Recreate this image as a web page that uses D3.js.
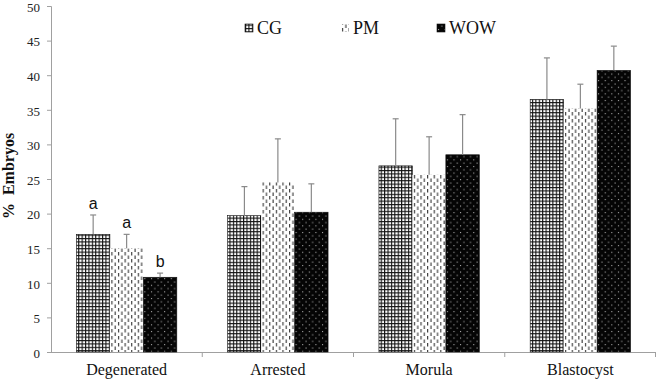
<!DOCTYPE html>
<html>
<head>
<meta charset="utf-8">
<script src="https://cdn.jsdelivr.net/npm/d3@7"></script>
<style>
  body { margin: 0; background: #fff; }
  svg { display: block; }
</style>
</head>
<body>
<div id="chart"></div>
<script>
'use strict';

const stages = ['Degenerated', 'Arrested', 'Morula', 'Blastocyst'];
const groups = ['CG', 'PM', 'WOW'];
const cgValues = [17.0, 19.7, 26.9, 36.5];
const pmValues = [15.0, 24.5, 25.6, 35.2];
const wowValues = [10.8, 20.2, 28.5, 40.7];
const cgErrors = [2.8, 4.2, 6.8, 6.0];
const pmErrors = [2.0, 6.3, 5.5, 3.5];
const wowErrors = [0.6, 4.1, 5.8, 3.5];
const sigLetters = [['a', 'a', 'b'], ['', '', ''], ['', '', ''], ['', '', '']];
const yTicks = [0, 5, 10, 15, 20, 25, 30, 35, 40, 45, 50];

const width = 656, height = 380;
const margin = {top: 6, right: 0, bottom: 28, left: 51};
const serif = '"Liberation Serif", "Times New Roman", serif';

const series = [cgValues, pmValues, wowValues];
const errors = [cgErrors, pmErrors, wowErrors];

const svg = d3.select('#chart').append('svg')
  .attr('width', width)
  .attr('height', height);

// fill patterns
const defs = svg.append('defs');

const grid = defs.append('pattern')
  .attr('id', 'pat-CG')
  .attr('patternUnits', 'userSpaceOnUse')
  .attr('width', 3.4).attr('height', 3.4);
grid.append('rect').attr('width', 3.4).attr('height', 3.4).attr('fill', '#fff');
grid.append('rect').attr('width', 1.1).attr('height', 3.4).attr('fill', '#111');
grid.append('rect').attr('width', 3.4).attr('height', 1.1).attr('fill', '#111');

const dash = defs.append('pattern')
  .attr('id', 'pat-PM')
  .attr('patternUnits', 'userSpaceOnUse')
  .attr('width', 6.6).attr('height', 7);
dash.append('rect').attr('width', 6.6).attr('height', 7).attr('fill', '#fff');
dash.append('rect').attr('x', 1).attr('y', 0).attr('width', 1.1).attr('height', 3.5).attr('fill', '#333');
dash.append('rect').attr('x', 4.3).attr('y', 3.5).attr('width', 1.1).attr('height', 3.5).attr('fill', '#333');

const dots = defs.append('pattern')
  .attr('id', 'pat-WOW')
  .attr('patternUnits', 'userSpaceOnUse')
  .attr('width', 6.6).attr('height', 6.6);
dots.append('rect').attr('width', 6.6).attr('height', 6.6).attr('fill', '#050505');
dots.append('rect').attr('x', 1).attr('y', 1).attr('width', 1).attr('height', 1).attr('fill', '#ccc');
dots.append('rect').attr('x', 4.3).attr('y', 4.3).attr('width', 1).attr('height', 1).attr('fill', '#ccc');

const x0 = d3.scaleBand()
  .domain(stages)
  .range([margin.left, width - margin.right])
  .paddingInner(0)
  .paddingOuter(0);

const x1 = d3.scaleBand()
  .domain(groups)
  .range([0, x0.bandwidth()])
  .paddingOuter(0.76)
  .paddingInner(0);

const y = d3.scaleLinear()
  .domain([0, 50])
  .range([height - margin.bottom, margin.top]);

// y axis
const yAxis = d3.axisLeft(y)
  .tickValues(yTicks)
  .tickSize(4)
  .tickPadding(7);

const yG = svg.append('g')
  .attr('transform', `translate(${margin.left}, 0)`)
  .call(yAxis)
  .attr('font-family', serif)
  .attr('font-size', 13);
yG.selectAll('path, line').attr('stroke', '#a0a0a0');
yG.selectAll('text').attr('fill', '#222').attr('dy', '0.4em');

// x axis
const xAxis = d3.axisBottom(x0)
  .tickSize(0)
  .tickPadding(12);

const xG = svg.append('g')
  .attr('transform', `translate(0, ${y(0)})`)
  .call(xAxis)
  .attr('font-family', serif)
  .attr('font-size', 16);
xG.select('.domain').attr('stroke', '#a0a0a0').attr('d', `M${margin.left},0.5H${width}`);
xG.selectAll('text').attr('fill', '#111');

// category separators below the axis
xG.selectAll('.sep')
  .data(stages.slice(1).concat(['end']))
  .enter().append('line')
  .attr('class', 'sep')
  .attr('x1', (d, i) => i < 3 ? x0(d) : width - 0.5)
  .attr('x2', (d, i) => i < 3 ? x0(d) : width - 0.5)
  .attr('y1', 0)
  .attr('y2', 5)
  .attr('stroke', '#a0a0a0');

// bars
const stageG = svg.selectAll('.stage')
  .data(stages)
  .enter().append('g')
  .attr('class', 'stage')
  .attr('transform', d => `translate(${x0(d)}, 0)`);

groups.forEach(function (g, gi) {
  stageG.append('rect')
    .attr('x', x1(g))
    .attr('y', (d, i) => y(series[gi][i]))
    .attr('width', x1.bandwidth())
    .attr('height', (d, i) => y(0) - y(series[gi][i]))
    .attr('fill', `url(#pat-${g})`)
    .attr('stroke', gi === 1 ? 'none' : '#111')
    .attr('stroke-width', 0.6);

  // upper error bars
  stageG.append('line')
    .attr('x1', x1(g) + x1.bandwidth() / 2)
    .attr('x2', x1(g) + x1.bandwidth() / 2)
    .attr('y1', (d, i) => y(series[gi][i]))
    .attr('y2', (d, i) => y(series[gi][i] + errors[gi][i]))
    .attr('stroke', '#8a8a8a')
    .attr('stroke-width', 1.2);
  stageG.append('line')
    .attr('x1', x1(g) + x1.bandwidth() / 2 - 3)
    .attr('x2', x1(g) + x1.bandwidth() / 2 + 3)
    .attr('y1', (d, i) => y(series[gi][i] + errors[gi][i]))
    .attr('y2', (d, i) => y(series[gi][i] + errors[gi][i]))
    .attr('stroke', '#8a8a8a')
    .attr('stroke-width', 1.2);

  // significance letters
  stageG.append('text')
    .attr('x', x1(g) + x1.bandwidth() / 2)
    .attr('y', (d, i) => y(series[gi][i] + errors[gi][i]) - 6)
    .attr('text-anchor', 'middle')
    .attr('font-family', '"Liberation Sans", Arial, sans-serif')
    .attr('font-size', 16)
    .attr('fill', '#111')
    .text((d, i) => sigLetters[i][gi]);
});

// y axis title
svg.append('text')
  .attr('transform', `translate(14, 176) rotate(-90)`)
  .attr('text-anchor', 'middle')
  .attr('font-family', serif)
  .attr('font-size', 16)
  .attr('font-weight', 'bold')
  .attr('xml:space', 'preserve')
  .style('white-space', 'pre')
  .attr('fill', '#111')
  .text('%  Embryos');

// legend
const legendX = d3.scalePoint()
  .domain(groups)
  .range([245, 437]);

const legend = svg.selectAll('.legend')
  .data(groups)
  .enter().append('g')
  .attr('class', 'legend')
  .attr('transform', d => `translate(${legendX(d)}, 28)`);

legend.append('rect')
  .attr('x', 0)
  .attr('y', -4)
  .attr('width', 8)
  .attr('height', 8)
  .attr('fill', d => `url(#pat-${d})`)
  .attr('stroke', (d, i) => i === 1 ? 'none' : '#111')
  .attr('stroke-width', 0.6);

legend.append('text')
  .attr('x', 12)
  .attr('y', 6)
  .attr('font-family', serif)
  .attr('font-size', 18)
  .attr('fill', '#111')
  .text(d => d);
</script>
</body>
</html>
